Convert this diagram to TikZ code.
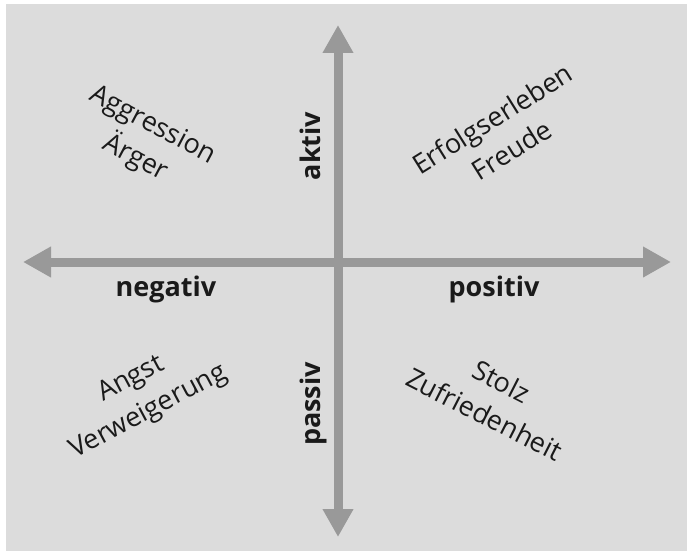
\documentclass[tikz,border=0pt]{standalone}
\usepackage{fontspec}
\setmainfont{Open Sans}
\usetikzlibrary{arrows.meta}
\definecolor{bgcol}{HTML}{DCDCDC}
\definecolor{axiscol}{HTML}{999999}
\definecolor{inkcol}{HTML}{1A1A1A}
\begin{document}
\begin{tikzpicture}[x=1pt,y=-1pt,
    axis/.style={axiscol,line width=9pt,-{Triangle[width=29pt,length=28pt]}},
    pole/.style={inkcol,font=\fontsize{27}{37}\bfseries\selectfont,inner sep=0pt,anchor=base},
    feel/.style={inkcol,font=\fontsize{27}{37}\selectfont,align=center,inner sep=0pt}]
    \useasboundingbox[fill=white](0,0)rectangle(687,551);
    \fill[bgcol](6,4)rectangle(687,551);
    \coordinate(O)at(338,262);
    \coordinate(N)at(338,25);
    \coordinate(S)at(338,537);
    \coordinate(W)at(23,262);
    \coordinate(E)at(671,262);
    \draw[axis](O)--(N);
    \draw[axis](O)--(S);
    \draw[axis](O)--(W);
    \draw[axis](O)--(E);
    \node[pole,rotate=90](aktiv)at(320,146){aktiv};
    \node[pole,rotate=90](passiv)at(320,404){passiv};
    \node[pole](negativ)at(166,296){negativ};
    \node[pole](positiv)at(494,296){positiv};
    \node[feel,rotate=-28](wut)at(144,142){Aggression\\Ärger};
    \node[feel,rotate=32](freude)at(502,134){Erfolgserleben\\Freude};
    \node[feel,rotate=28](angst)at(140,396){Angst\\Verweigerung};
    \node[feel,rotate=-27](stolz)at(493,398){Stolz\\Zufriedenheit};
\end{tikzpicture}
\end{document}
